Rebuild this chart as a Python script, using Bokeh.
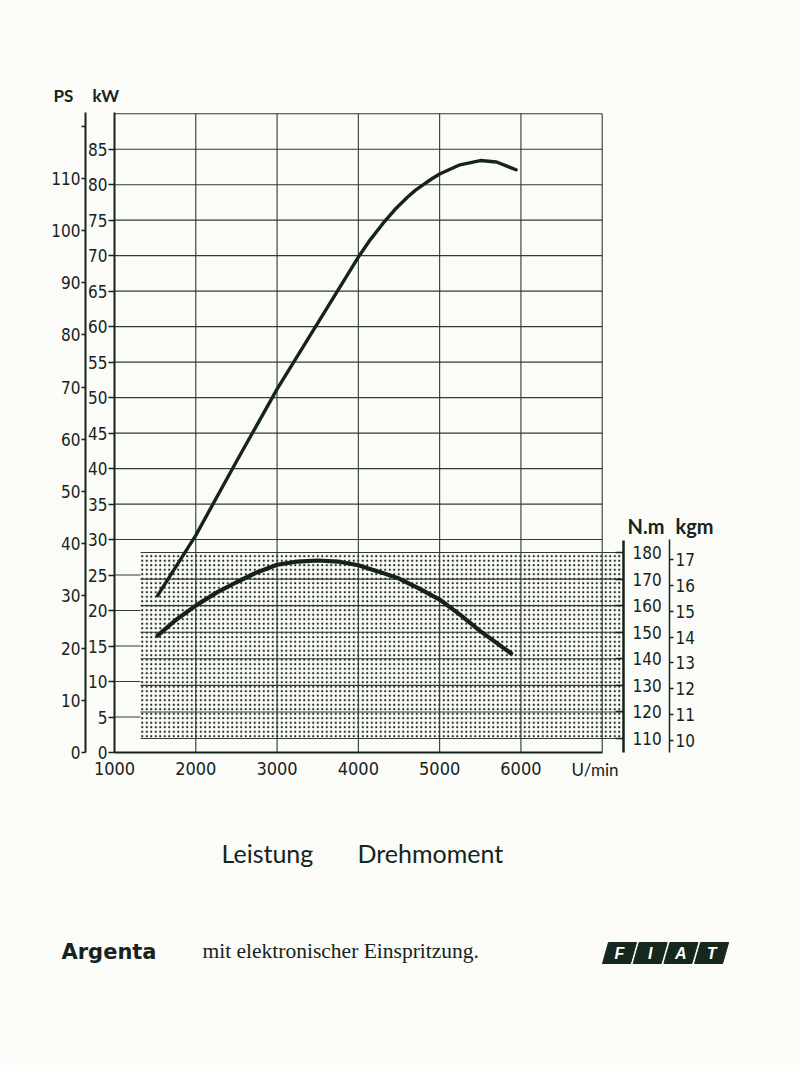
from bokeh.plotting import figure
from bokeh.models import Range1d, LinearAxis, FixedTicker
from bokeh.core.properties import value
from bokeh.embed import file_html
from bokeh.resources import INLINE

# ---------------- data ----------------
power_rpm = [1530, 2000, 2500, 3000, 3500, 4000, 4150, 4300, 4450, 4600, 4700, 4800, 4900, 5000, 5250, 5500, 5700, 5940]
power_kw = [22.1, 30.6, 41.0, 51.2, 60.5, 69.8, 72.3, 74.5, 76.5, 78.2, 79.2, 80.0, 80.8, 81.5, 82.8, 83.4, 83.2, 82.1]

torque_rpm = [1530, 1750, 2000, 2250, 2500, 2750, 3000, 3250, 3500, 3750, 4000, 4250, 4500, 4750, 5000, 5250, 5500, 5700, 5880]
torque_nm = [148.7, 154.5, 160.0, 164.8, 168.8, 172.5, 175.4, 176.6, 177.0, 176.6, 175.2, 172.8, 170.2, 166.4, 162.3, 156.6, 150.4, 146.0, 142.0]

rpm_ticks = [1000, 2000, 3000, 4000, 5000, 6000]
rpm_grid = [2000, 3000, 4000, 5000, 6000, 7000]
kw_ticks = [0, 5, 10, 15, 20, 25, 30, 35, 40, 45, 50, 55, 60, 65, 70, 75, 80, 85]
kw_grid = [5, 10, 15, 20, 25, 30, 35, 40, 45, 50, 55, 60, 65, 70, 75, 80, 85, 90]
ps_ticks = [0, 10, 20, 30, 40, 50, 60, 70, 80, 90, 100, 110, 120]
nm_ticks = [110, 120, 130, 140, 150, 160, 170, 180]
kgm_ticks = [10, 11, 12, 13, 14, 15, 16, 17]
band_rpm = (1320, 7262)
band_nm = (110, 180)
logo_letters = ["F", "I", "A", "T"]

INK = "#15241b"
GRID = "#2f3b34"
BG = "#fbfbf8"

# ---------------- geometry ----------------
W, H = 800, 1065
FL, FR, FT, FB = 114, 623, 112, 752
X0, X1 = 1000, 7262
KW1 = 90.17
PS1 = KW1 * 1.35962
NM0, NM1 = 104.73, 345.6
KG0, KG1 = 9.536, 34.29

def X(px):
    return X0 + (px - FL) * (X1 - X0) / (FR - FL)

def Y(py):
    return (FB - py) * KW1 / (FB - FT)

p = figure(width=W, height=H, x_range=Range1d(X0, X1), y_range=Range1d(0, KW1),
           output_backend="svg", toolbar_location=None,
           x_axis_location=None, y_axis_location=None,
           min_border_left=FL, min_border_right=W - FR,
           min_border_top=FT, min_border_bottom=H - FB)
p.extra_y_ranges = {"ps": Range1d(0, PS1), "nm": Range1d(NM0, NM1), "kgm": Range1d(KG0, KG1)}
p.grid.visible = False
p.outline_line_color = None
p.background_fill_color = BG
p.border_fill_color = BG

NUM_FONT = "DejaVu Sans Condensed, Roboto"

def style_axis(ax, size="17px", lw=2):
    ax.axis_line_color = INK
    ax.axis_line_width = lw
    ax.major_tick_line_color = INK
    ax.major_tick_line_width = 1.5
    ax.minor_tick_line_color = None
    ax.major_label_text_font = NUM_FONT
    ax.major_label_text_font_size = size
    ax.major_label_text_color = INK

kw_ax = LinearAxis(ticker=FixedTicker(ticks=kw_ticks), major_tick_out=6, major_tick_in=0,
                   major_label_standoff=1)
style_axis(kw_ax)
p.add_layout(kw_ax, "left")

ps_ax = LinearAxis(y_range_name="ps", ticker=FixedTicker(ticks=ps_ticks), major_tick_out=4,
                   major_tick_in=0, major_label_standoff=1,
                   major_label_overrides={120: ""})
style_axis(ps_ax)
p.add_layout(ps_ax, "left")

x_ax = LinearAxis(ticker=FixedTicker(ticks=rpm_ticks), major_tick_out=0,
                  major_tick_in=0, major_label_standoff=9, bounds=(1000, 7000))
style_axis(x_ax, size="18px")
p.add_layout(x_ax, "below")

nm_ax = LinearAxis(y_range_name="nm", ticker=FixedTicker(ticks=nm_ticks), major_tick_out=0,
                   major_tick_in=8, major_label_standoff=9, bounds=(NM0, 184.5),
                   axis_label=" ", axis_label_text_font_size="1px", axis_label_standoff=1)
style_axis(nm_ax, lw=2.5)
p.add_layout(nm_ax, "right")

kg_ax = LinearAxis(y_range_name="kgm", ticker=FixedTicker(ticks=kgm_ticks), major_tick_out=4,
                   major_tick_in=0, major_label_standoff=2, bounds=(KG0, 17.77))
style_axis(kg_ax, lw=1.5)
p.add_layout(kg_ax, "right")

# grid lines (kW)
p.segment(x0=[1000] * len(kw_grid), x1=[7000] * len(kw_grid), y0=kw_grid, y1=kw_grid,
          line_color=GRID, line_width=1.1)

# dotted torque band
p.quad(left=[band_rpm[0]], right=[band_rpm[1]], bottom=[band_nm[0]], top=[band_nm[1]],
       y_range_name="nm", fill_color=BG, line_color=None,
       hatch_pattern=".", hatch_scale=4.5, hatch_weight=1.0, hatch_color="#1c2a22")

# torque grid lines
p.segment(x0=[band_rpm[0]] * len(nm_ticks), x1=[band_rpm[1]] * len(nm_ticks),
          y0=nm_ticks, y1=nm_ticks, y_range_name="nm", line_color=GRID, line_width=1.1)

# vertical grid lines
p.segment(x0=rpm_grid, x1=rpm_grid, y0=[0] * len(rpm_grid), y1=[90] * len(rpm_grid),
          line_color=GRID, line_width=1.1)

# curves
p.line(power_rpm, power_kw, line_color=INK, line_width=3.4, line_cap="round", line_join="round")
p.line(torque_rpm, torque_nm, y_range_name="nm", line_color=INK, line_width=4.2,
       line_cap="round", line_join="round")

# ---------------- texts around the chart (overlay level, not clipped) ----------------
def txt(s, px, py, size, font="Lato", style="normal", color=INK, align="left"):
    p.text(x=[X(px)], y=[Y(py)], text=[s], text_font=value(font), text_font_size=size,
           text_font_style=style, text_color=color, text_align=align,
           text_baseline="middle", level="overlay")

txt("PS", 53, 95, "17px", style="bold")
txt("kW", 92, 95, "17px", style="bold")
txt("N.m", 627, 525, "20px", style="bold")
txt("kgm", 675, 525, "20px", style="bold")
txt("U/min", 571, 769, "17px")
txt("Leistung", 221, 852, "25px")
txt("Drehmoment", 357, 852, "25px")
txt("Argenta", 61, 951, "21px", font="DejaVu Sans", style="bold")
txt("mit elektronischer Einspritzung.", 202, 950, "21.5px", font="Liberation Serif")

# FIAT logo: one dark parallelogram per letter
for i in range(len(logo_letters)):
    bx = 602 + i * 30.7
    p.patch(x=[X(bx), X(bx + 28), X(bx + 34), X(bx + 6)],
            y=[Y(963), Y(963), Y(942), Y(942)],
            fill_color="#16281d", line_color="#16281d", line_width=1, level="overlay")
p.text(x=[X(602 + i * 30.7 + 17) for i in range(len(logo_letters))],
       y=[Y(953)] * len(logo_letters), text=logo_letters,
       text_font=value("Liberation Sans"), text_font_size="16px",
       text_font_style="bold italic", text_color="white", text_align="center",
       text_baseline="middle", level="overlay")

open("out.html", "w").write(file_html(p, INLINE))
